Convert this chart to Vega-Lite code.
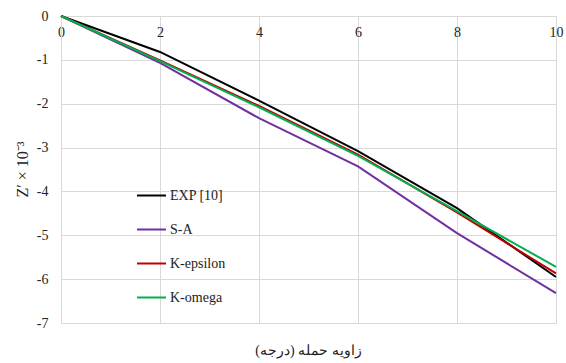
{
  "$schema": "https://vega.github.io/schema/vega-lite/v6.json",
  "width": 495,
  "height": 307,
  "autosize": {"type": "none"},
  "padding": {"left": 61, "top": 16, "right": 10, "bottom": 40},
  "background": "white",
  "config": {
    "view": {"stroke": null},
    "font": "Times New Roman, serif"
  },
  "data": {
    "values": [
      {"angle": 0, "z": 0, "model": "EXP [10]"},
      {"angle": 2, "z": -0.82, "model": "EXP [10]"},
      {"angle": 4, "z": -1.93, "model": "EXP [10]"},
      {"angle": 6, "z": -3.08, "model": "EXP [10]"},
      {"angle": 8, "z": -4.38, "model": "EXP [10]"},
      {"angle": 10, "z": -5.95, "model": "EXP [10]"},
      {"angle": 0, "z": 0, "model": "S-A"},
      {"angle": 2, "z": -1.07, "model": "S-A"},
      {"angle": 4, "z": -2.33, "model": "S-A"},
      {"angle": 6, "z": -3.43, "model": "S-A"},
      {"angle": 8, "z": -4.95, "model": "S-A"},
      {"angle": 10, "z": -6.32, "model": "S-A"},
      {"angle": 0, "z": 0, "model": "K-epsilon"},
      {"angle": 2, "z": -1.01, "model": "K-epsilon"},
      {"angle": 4, "z": -2.05, "model": "K-epsilon"},
      {"angle": 6, "z": -3.16, "model": "K-epsilon"},
      {"angle": 8, "z": -4.48, "model": "K-epsilon"},
      {"angle": 10, "z": -5.87, "model": "K-epsilon"},
      {"angle": 0, "z": 0, "model": "K-omega"},
      {"angle": 2, "z": -1.03, "model": "K-omega"},
      {"angle": 4, "z": -2.08, "model": "K-omega"},
      {"angle": 6, "z": -3.19, "model": "K-omega"},
      {"angle": 8, "z": -4.45, "model": "K-omega"},
      {"angle": 10, "z": -5.72, "model": "K-omega"}
    ]
  },
  "mark": {"type": "line", "strokeWidth": 2},
  "encoding": {
    "x": {
      "field": "angle",
      "type": "quantitative",
      "scale": {"domain": [0, 10], "nice": false},
      "axis": {
        "orient": "top",
        "values": [0, 2, 4, 6, 8, 10],
        "ticks": false,
        "tickSize": 0,
        "labelBaseline": "top",
        "labelPadding": -9,
        "labelFlush": false,
        "labelFont": "Times New Roman, serif",
        "labelFontSize": 14,
        "labelColor": "#222222",
        "gridColor": "#d9d9d9",
        "gridWidth": 1,
        "domainColor": "#d9d9d9",
        "title": "زاویه حمله (درجه)",
        "titleFont": "Times New Roman, serif",
        "titleFontSize": 14,
        "titleFontWeight": "normal",
        "titleColor": "#222222",
        "titleX": 247,
        "titleY": 334,
        "titleAlign": "center",
        "titleBaseline": "middle"
      }
    },
    "y": {
      "field": "z",
      "type": "quantitative",
      "scale": {"domain": [-7, 0], "nice": false},
      "axis": {
        "values": [0, -1, -2, -3, -4, -5, -6, -7],
        "labelExpr": "'' + datum.value",
        "ticks": false,
        "tickSize": 0,
        "labelPadding": 13,
        "labelFont": "Times New Roman, serif",
        "labelFontSize": 14,
        "labelColor": "#222222",
        "gridColor": "#d9d9d9",
        "domainColor": "#d9d9d9",
        "title": "Z′ × 10⁻³",
        "titleFont": "Times New Roman, serif",
        "titleFontSize": 16,
        "titleFontWeight": "normal",
        "titleColor": "#222222",
        "titleAngle": -90,
        "titleX": -39,
        "titleY": 153,
        "titleAlign": "center",
        "titleBaseline": "middle"
      }
    },
    "color": {
      "field": "model",
      "type": "nominal",
      "scale": {
        "domain": ["EXP [10]", "S-A", "K-epsilon", "K-omega"],
        "range": ["#000000", "#7030A0", "#C00000", "#00B050"]
      },
      "legend": {
        "orient": "none",
        "legendX": 75,
        "legendY": 164,
        "title": null,
        "symbolType": "stroke",
        "symbolSize": 841,
        "symbolStrokeWidth": 2,
        "labelFont": "Times New Roman, serif",
        "labelFontSize": 14,
        "labelColor": "#222222",
        "labelOffset": 3,
        "rowPadding": 11
      }
    }
  }
}
